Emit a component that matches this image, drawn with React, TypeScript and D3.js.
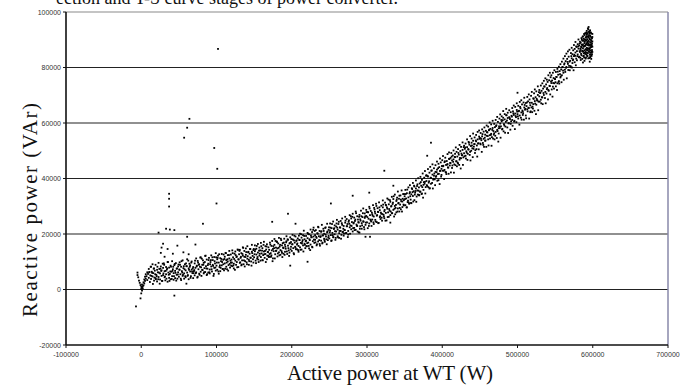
import * as d3 from "d3";

// all values in thousands (kW, kVAr)
const startupPoints: number[][] = [
  [-7,-6.1],[-5,6.1],[-5,5.2],[-4,4.4],[-3,3.2],[-2,2.4],[-1,1.6],[0,1],[0,-1.4],[-1,-3.2],[1,0.6],[1,1.8],[2,0.4],[2,1.2],[3,1.5],[3,2.6],[4,2.2],[4,3.6],[5,3.1],[5,4.6],[6,3.9],[6,5.5],[7,4.8],[8,6.2],[8,3.4],[9,5.6],[10,7.4],[10,4.2],[11,6.3],[12,5.1],[1,-0.4],[0,0.2],
];

const lowBand: number[][] = [
  [13,3.8],[13,8.2],[14,6.4],[15,4.7],[15,9.1],[16,5.9],[17,3.2],[17,7.6],[18,6.8],[19,4.1],[19,8.9],[20,5.3],[21,7.1],[21,2.9],[22,6.2],[23,4.5],[23,9.6],[24,7.4],[25,3.6],[25,5.8],[26,8.3],[27,4.9],[27,6.9],[28,3.1],[29,7.8],[29,5.2],
  [30,9.4],[31,4.4],[31,6.6],[32,3.3],[33,8.1],[33,5.5],[34,7.2],[35,2.8],[35,9.9],[36,6.1],[37,4.2],[37,7.9],[38,5.6],[39,3.7],[39,8.6],[40,6.4],[41,10.2],[41,4.8],[42,7.3],[43,3.5],[43,5.9],[44,8.8],[45,6.7],[45,4.1],[46,9.5],[47,5.3],[47,7.5],[48,3.9],[49,6.2],[49,8.3],
  [50,4.6],[51,7.1],[51,9.8],[52,5.5],[53,3.4],[53,8.2],[54,6.6],[55,10.5],[55,4.9],[56,7.7],[57,5.8],[57,3.9],[58,9.1],[59,6.9],[59,4.4],[60,8.4],[61,6.1],[61,10.9],[62,5.2],[63,7.6],[63,3.7],[64,9.3],[65,6.5],[65,8.7],[66,4.8],[67,7.2],[67,10.1],[68,5.9],[69,8.1],[69,4.1],
  [70,6.6],[71,9.4],[71,5.1],[72,7.8],[73,11.2],[73,6.2],[74,8.6],[75,4.6],[75,10.3],[76,7.3],[77,5.7],[77,9.1],[78,8.2],[79,6.4],[79,11.6],[80,4.9],[81,8.9],[81,7.1],[82,10.5],[83,5.8],[83,9.6],[84,7.7],[85,12.1],[85,6.3],[86,8.4],[87,5.2],[87,10.8],[88,7.5],[89,9.3],[89,6.1],
  [90,11.4],[91,7.2],[91,5.8],[92,9.9],[93,8.3],[93,12.3],[94,6.5],[95,10.6],[95,8.9],[96,4.9],[97,7.8],[97,11.7],[98,9.4],[99,6.8],[99,13.1],[100,8.6],[101,10.9],[101,7.1],[102,12.2],[103,5.7],[103,9.7],[104,8.1],[105,11.3],[105,6.6],[106,10.2],[107,12.8],[107,8.7],[108,7.4],[109,10.7],[109,9.1],
  [110,6.9],[111,11.8],[111,9.4],[112,13.2],[113,8.2],[113,10.6],[114,7.3],[115,12.4],[115,10.1],[116,8.8],[117,13.9],[117,11.2],[118,7.9],[119,9.7],[119,12.6],[120,10.8],[121,8.4],[121,14.1],[122,11.6],[123,9.3],[123,7.6],[124,12.9],[125,10.4],[125,13.7],[126,8.9],[127,11.9],[127,9.9],[128,14.4],[129,10.9],[129,8.1],
  [130,12.7],[131,9.6],[131,14.3],[132,11.4],[133,8.7],[133,13.1],[134,10.5],[135,15.2],[135,12.2],[136,9.1],[137,11.8],[137,13.9],[138,10.2],[139,14.8],[139,12.5],[140,9.8],[141,11.1],[141,15.6],[142,13.4],[143,10.7],[143,8.9],[144,12.9],[145,14.6],[145,11.5],[146,10.1],[147,13.6],[147,16.1],[148,12.1],[149,9.7],[149,14.2],
];

const midBand: number[][] = [
  [150,11.6],[151,13.8],[151,15.9],[152,10.4],[153,12.6],[153,14.7],[154,11.1],[155,16.4],[155,13.3],[156,9.9],[157,12.2],[157,15.1],[158,14.1],[159,11.7],[159,16.8],[160,13],[161,10.6],[161,14.9],[162,12.4],[163,17.2],[163,13.7],[164,11.4],[165,15.6],[165,12.8],[166,14.4],[167,10.9],[167,16.3],[168,13.5],[169,15.2],[169,12.1],
  [170,14.3],[171,11.8],[171,16.9],[172,13.1],[173,15.7],[173,12.3],[174,17.5],[175,14.6],[175,11.2],[176,13.8],[177,16.1],[177,18.2],[178,12.7],[179,15.1],[179,13.9],[180,17.3],[181,11.9],[181,14.8],[182,16.6],[183,13.4],[183,18.6],[184,15.5],[185,12.5],[185,14.2],[186,17.8],[187,15.9],[187,13.2],[188,16.7],[189,12.9],[189,14.9],
  [190,18.3],[191,13.6],[191,16.1],[192,14.7],[193,17.4],[193,19.2],[194,12.8],[195,15.8],[195,17.9],[196,14.1],[197,16.6],[197,13.3],[198,18.8],[199,15.4],[199,17.1],[200,13.9],[201,16.3],[201,19.7],[202,14.9],[203,17.7],[203,12.7],[204,16.9],[205,15.1],[205,19.1],[206,17.5],[207,14.5],[207,16.2],[208,18.4],[209,15.7],[209,13.6],
  [210,17.9],[211,15.2],[211,20.1],[212,16.8],[213,18.7],[213,14.4],[214,17.2],[215,19.6],[215,15.9],[216,21.2],[217,16.5],[217,18.1],[218,14.9],[219,19.3],[219,17.6],[220,15.6],[221,20.4],[221,18.5],[222,16.9],[223,14.8],[223,19.9],[224,17.8],[225,21.6],[225,16.2],[226,18.9],[227,15.4],[227,20.7],[228,17.4],[229,19.1],[229,22.3],
  [230,16.8],[231,19.6],[231,17.9],[232,21.4],[233,15.9],[233,18.6],[234,20.3],[235,17.3],[235,22.6],[236,19.2],[237,16.4],[237,21.1],[238,18.9],[239,20.8],[239,17.6],[240,23.3],[241,19.5],[241,16.9],[242,21.9],[243,18.3],[243,20.1],[244,17.2],[245,22.4],[245,19.8],[246,18.1],[247,23.7],[247,20.6],[248,17.8],[249,21.5],[249,19.3],
  [250,18.4],[251,21.2],[251,23.8],[252,19.6],[253,17.7],[253,22.1],[254,20.4],[255,24.5],[255,18.9],[256,21.8],[257,19.9],[257,23.1],[258,17.9],[259,22.7],[259,20.9],[260,25.1],[261,19.2],[261,21.6],[262,23.6],[263,20.3],[263,18.6],[264,22.4],[265,24.7],[265,21.1],[266,19.7],[267,23.3],[267,25.6],[268,20.8],[269,22.9],[269,19.4],
  [270,21.4],[271,24.1],[271,26.2],[272,20.3],[273,22.8],[273,25.4],[274,23.6],[275,21.1],[275,19.8],[276,24.9],[277,22.4],[277,26.8],[278,23.1],[279,21.7],[279,25.6],[280,24.3],[281,20.9],[281,27.3],[282,23.8],[283,22.2],[283,25.9],[284,24.7],[285,21.5],[285,28.1],[286,23.4],[287,26.4],[287,22.9],[288,25.2],[289,20.6],[289,24.1],
  [290,26.9],[291,22.8],[291,25.3],[292,28.4],[293,23.9],[293,21.9],[294,26.1],[295,24.6],[295,29.2],[296,22.5],[297,27.4],[297,25.8],[298,23.3],[299,28.7],[299,26.5],[300,24.2],[301,22.1],[301,27.9],[302,25.5],[303,29.8],[303,23.8],[304,26.8],[305,24.9],[305,28.3],[306,22.9],[307,27.1],[307,25.2],[308,30.4],[309,26.3],[309,23.6],
  [310,28.8],[311,25.1],[311,27.4],[312,30.9],[313,24.3],[313,26.6],[314,29.3],[315,27.9],[315,23.9],[316,31.4],[317,26.1],[317,28.6],[318,25.4],[319,30.2],[319,27.3],[320,24.8],[321,29.6],[321,32.1],[322,26.9],[323,28.2],[323,25.7],[324,31.3],[325,27.6],[325,30.5],[326,24.9],[327,29.1],[327,32.8],[328,27.8],[329,26.2],[329,30.7],
  [330,28.4],[331,31.6],[331,26.8],[332,29.9],[333,33.4],[333,27.5],[334,30.8],[335,28.7],[335,32.6],[336,26.3],[337,30.1],[337,34.2],[338,29.4],[339,31.9],[339,27.8],[340,33.1],[341,29.2],[341,35.3],[342,31.2],[343,28.1],[343,33.8],[344,30.6],[345,32.4],[345,28.9],[346,35.7],[347,31.7],[347,29.7],[348,34.4],[349,32.2],[349,30.3],
];

const highBand: number[][] = [
  [350,33.6],[351,30.4],[351,35.9],[352,32.8],[353,29.6],[353,34.7],[354,31.5],[355,36.8],[355,33.2],[356,30.9],[357,35.1],[357,37.6],[358,32.4],[359,34.3],[359,31.1],[360,36.2],[361,33.7],[361,38.4],[362,35.4],[363,32.2],[363,37.1],[364,34.9],[365,39.3],[365,36.4],[366,33.5],[367,37.9],[367,35.7],[368,40.1],[369,36.8],[369,34.1],
  [370,38.2],[371,35.3],[371,40.6],[372,37.4],[373,34.6],[373,39.5],[374,41.8],[375,37.7],[375,35.9],[376,40.3],[377,38.8],[377,42.7],[378,36.9],[379,41.2],[379,39.1],[380,37.3],[381,43.4],[381,40.7],[382,38.5],[383,42.1],[383,36.4],[384,44.2],[385,40.2],[385,38.1],[386,42.9],[387,41.4],[387,45.1],[388,39.6],[389,43.7],[389,41],
  [390,39.7],[391,42.4],[391,44.8],[392,40.9],[393,46.1],[393,43.2],[394,41.6],[395,45.3],[395,39.4],[396,44.1],[397,42.7],[397,47.2],[398,45.8],[399,43.5],[399,41.3],[400,46.6],[401,44.4],[401,48.1],[402,42.8],[403,45.9],[403,43.1],[404,47.5],[405,44.9],[405,42.2],[406,46.3],[407,48.8],[407,45.2],[408,43.9],[409,47.1],[409,49.4],
  [410,44.7],[411,47.4],[411,45.6],[412,49.2],[413,46.5],[413,43.8],[414,48.3],[415,50.1],[415,46.9],[416,45.1],[417,48.9],[417,47.7],[418,51.2],[419,46.2],[419,49.6],[420,47.9],[421,45.4],[421,50.6],[422,48.6],[423,52.1],[423,46.8],[424,49.9],[425,47.3],[425,51.4],[426,48.4],[427,53],[427,50.3],[428,47.6],[429,51.8],[429,49.1],
  [430,50.7],[431,48.2],[431,52.6],[432,49.8],[433,54.1],[433,51.3],[434,48.9],[435,53.2],[435,50.4],[436,52.2],[437,55.3],[437,49.6],[438,51.7],[439,54.4],[439,52.9],[440,50.9],[441,53.6],[441,56.2],[442,51.5],[443,54.8],[443,52.4],[444,50.2],[445,55.7],[445,53.4],[446,51.9],[447,56.8],[447,54.1],[448,52.7],[449,55.1],[449,57.3],
  [450,54.6],[451,52.3],[451,56.4],[452,53.8],[453,57.7],[453,55.2],[454,52.8],[455,56.9],[455,54.3],[456,58.4],[457,55.8],[457,53.6],[458,57.2],[459,59.1],[459,55.4],[460,56.6],[461,54.1],[461,58.7],[462,57.4],[463,55.6],[463,60.2],[464,57.9],[465,56.1],[465,59.5],[466,54.9],[467,58.2],[467,60.8],[468,57.1],[469,59.7],[469,56.3],
  [470,58.5],[471,56.8],[471,61.1],[472,59.2],[473,57.5],[473,62.2],[474,60.4],[475,58.1],[475,56.2],[476,61.6],[477,59.8],[477,63.1],[478,58.8],[479,62.4],[479,60.6],[480,57.9],[481,61.9],[481,64.3],[482,59.6],[483,63.2],[483,61.3],[484,58.7],[485,62.8],[485,65.1],[486,60.9],[487,63.7],[487,61.8],[488,59.9],[489,64.6],[489,62.1],
  [490,61.4],[491,63.9],[491,59.7],[492,62.6],[493,65.4],[493,61.1],[494,64.2],[495,62.9],[495,66.3],[496,60.8],[497,63.4],[497,65.8],[498,62.1],[499,64.7],[499,67.1],[500,63.2],[501,61.6],[501,66.2],[502,64.4],[503,62.7],[503,67.6],[504,65.3],[505,63.8],[505,68.2],[506,66.7],[507,64.1],[507,62.9],[508,67.4],[509,65.6],[509,69.1],
  [510,64.8],[511,67.2],[511,62.7],[512,66.1],[513,69.4],[513,64.9],[514,67.8],[515,65.4],[515,70.3],[516,68.5],[517,66.4],[517,63.9],[518,69.8],[519,67.3],[519,71.2],[520,65.9],[521,68.9],[521,66.8],[522,70.7],[523,67.9],[523,72.1],[524,69.3],[525,66.6],[525,71.4],[526,68.2],[527,73.2],[527,70.1],[528,67.7],[529,71.9],[529,69.6],
  [530,70.8],[531,68.4],[531,73.5],[532,71.6],[533,69.2],[533,74.3],[534,72.4],[535,70.1],[535,75.2],[536,73.1],[537,71.2],[537,76.1],[538,73.9],[539,72.2],[539,75.6],[540,74.8],[541,71.9],[541,77.2],[542,75.4],[543,73.3],[543,78.1],[544,76.5],[545,74.4],[545,77.2],[546,75.3],[547,73.1],[547,78.1],[548,76.2],[549,74.3],[549,79],
  [550,75.8],[551,73.2],[551,78.4],[552,76.6],[553,74.3],[553,79.5],[554,77.4],[555,75.1],[555,80.3],[556,78.7],[557,76.4],[557,81.2],[558,79.3],[559,77.2],[559,82.1],[560,80.2],[561,78.1],[561,83.2],[562,81.1],[563,79.2],[563,84.1],[564,82.3],[565,80.2],[565,85],[566,83.1],[567,81.3],[567,85.8],[568,83.9],[569,82.1],[569,86.4],
];

const bandFill: number[][] = [
  [10.5,6.2],[11.5,2.7],[12.5,8.2],[13.5,4.9],[14.5,6],[15.5,2],[16.5,7.5],[17.5,4.3],[18.5,5.5],[19.5,3.7],
  [20.5,4.8],[21.5,8.2],[22.5,3.7],[23.5,6.1],[24.5,2.1],[25.5,7.5],[26.5,6.7],[27.5,3.1],[28.5,9.3],[29.5,5.8],
  [30.5,8.9],[31.5,4.7],[32.5,6.7],[33.5,3.9],[34.5,7.6],[35.5,9.9],[36.5,5.3],[37.5,3.1],[38.5,6.5],[39.5,8.2],
  [40.5,3.8],[41.5,6.7],[42.5,8.2],[43.5,4.8],[44.5,9.2],[45.5,6],[46.5,3.2],[47.5,7.6],[48.5,5.4],[49.5,9],
  [50.5,7.2],[51.5,8.9],[52.5,3.9],[53.5,10.2],[54.5,6.1],[55.5,5.3],[56.5,8.4],[57.5,7.3],[58.5,4.8],[59.5,9.4],
  [60.5,8.4],[61.5,4.9],[62.5,10.4],[63.5,7.1],[64.5,8.2],[65.5,4.2],[66.5,9.7],[67.5,6.5],[68.5,7.6],[69.5,5.9],
  [70.5,7],[71.5,10.4],[72.5,5.9],[73.5,8.3],[74.5,4.3],[75.5,9.7],[76.5,8.9],[77.5,5.3],[78.5,11.5],[79.5,8],
  [80.5,11.1],[81.5,7],[82.5,8.9],[83.5,6.2],[84.5,9.9],[85.5,12.2],[86.5,7.6],[87.5,5.5],[88.5,8.8],[89.5,10.6],
  [90.5,6.2],[91.5,9.1],[92.5,10.6],[93.5,7.3],[94.5,11.6],[95.5,8.5],[96.5,5.6],[97.5,10.2],[98.5,7.9],[99.5,11.6],
  [100.5,9.7],[101.5,11.4],[102.5,6.5],[103.5,12.7],[104.5,8.7],[105.5,7.8],[106.5,11],[107.5,9.9],[108.5,7.4],[109.5,12.6],
  [110.5,11],[111.5,7.5],[112.5,13.1],[113.5,9.7],[114.5,10.9],[115.5,6.8],[116.5,12.4],[117.5,9.2],[118.5,10.4],[119.5,8.6],
  [120.5,9.7],[121.5,13.1],[122.5,8.7],[123.5,11],[124.5,7.1],[125.5,12.4],[126.5,11.7],[127.5,8],[128.5,14.3],[129.5,10.8],
  [130.5,13.9],[131.5,9.8],[132.5,11.8],[133.5,9],[134.5,12.8],[135.5,15],[136.5,10.5],[137.5,8.3],[138.5,11.7],[139.5,13.5],
  [140.5,9.1],[141.5,12],[142.5,13.6],[143.5,10.2],[144.5,14.6],[145.5,11.4],[146.5,8.6],[147.5,13.1],[148.5,10.9],[149.5,14.6],
  [150.5,12.7],[151.5,14.4],[152.5,9.5],[153.5,15.7],[154.5,11.7],[155.5,10.8],[156.5,14],[157.5,12.9],[158.5,10.4],[159.5,15.6],
  [160.5,14],[161.5,10.5],[162.5,16.1],[163.5,12.7],[164.5,13.9],[165.5,9.9],[166.5,15.5],[167.5,12.2],[168.5,13.5],[169.5,11.7],
  [170.5,12.8],[171.5,16.2],[172.5,11.8],[173.5,14.1],[174.5,10.2],[175.5,15.6],[176.5,14.9],[177.5,11.2],[178.5,17.5],[179.5,14],
  [180.5,17.1],[181.5,13],[182.5,15],[183.5,12.3],[184.5,16.1],[185.5,18.3],[186.5,13.8],[187.5,11.7],[188.5,15.1],[189.5,16.9],
  [190.5,12.5],[191.5,15.4],[192.5,17],[193.5,13.7],[194.5,18.1],[195.5,14.9],[196.5,12.1],[197.5,16.7],[198.5,14.5],[199.5,18.2],
  [200.5,16.3],[201.5,18],[202.5,13.1],[203.5,19.4],[204.5,15.4],[205.5,14.5],[206.5,17.7],[207.5,16.6],[208.5,14.2],[209.5,19.4],
  [210.5,17.8],[211.5,14.3],[212.5,19.9],[213.5,16.6],[214.5,17.8],[215.5,13.7],[216.5,19.3],[217.5,16.1],[218.5,17.4],[219.5,15.6],
  [220.5,16.7],[221.5,20.1],[222.5,15.7],[223.5,18.1],[224.5,14.2],[225.5,19.5],[226.5,18.8],[227.5,15.2],[228.5,21.5],[229.5,18],
  [230.5,21.1],[231.5,17],[232.5,19],[233.5,16.3],[234.5,20.1],[235.5,22.4],[236.5,17.8],[237.5,15.8],[238.5,19.2],[239.5,21],
  [240.5,16.6],[241.5,19.5],[242.5,21.1],[243.5,17.8],[244.5,22.2],[245.5,19.1],[246.5,16.3],[247.5,20.9],[248.5,18.7],[249.5,22.4],
  [250.5,20.6],[251.5,22.3],[252.5,17.5],[253.5,23.6],[254.5,19.6],[255.5,18.8],[256.5,22.1],[257.5,21],[258.5,18.6],[259.5,23.8],
  [260.5,22.3],[261.5,18.8],[262.5,24.4],[263.5,21.1],[264.5,22.3],[265.5,18.3],[266.5,23.9],[267.5,20.7],[268.5,21.9],[269.5,20.2],
  [270.5,21.4],[271.5,24.8],[272.5,20.4],[273.5,22.8],[274.5,18.9],[275.5,24.4],[276.5,23.7],[277.5,20.1],[278.5,26.4],[279.5,22.9],
  [280.5,26.2],[281.5,22.1],[282.5,24.1],[283.5,21.4],[284.5,25.2],[285.5,27.5],[286.5,23],[287.5,20.9],[288.5,24.3],[289.5,26.2],
  [290.5,21.9],[291.5,24.8],[292.5,26.4],[293.5,23.1],[294.5,27.5],[295.5,24.4],[296.5,21.7],[297.5,26.3],[298.5,24.1],[299.5,27.9],
  [300.5,26.1],[301.5,27.8],[302.5,22.9],[303.5,29.2],[304.5,25.2],[305.5,24.5],[306.5,27.7],[307.5,26.6],[308.5,24.2],[309.5,29.4],
  [310.5,28],[311.5,24.5],[312.5,30.1],[313.5,26.8],[314.5,28],[315.5,24],[316.5,29.6],[317.5,26.4],[318.5,27.7],[319.5,25.9],
  [320.5,27.2],[321.5,30.6],[322.5,26.3],[323.5,28.7],[324.5,24.8],[325.5,30.3],[326.5,29.6],[327.5,26.1],[328.5,32.4],[329.5,29],
  [330.5,32.2],[331.5,28.1],[332.5,30.1],[333.5,27.5],[334.5,31.3],[335.5,33.6],[336.5,29.1],[337.5,27.1],[338.5,30.5],[339.5,32.4],
  [340.5,28.1],[341.5,31],[342.5,32.7],[343.5,29.4],[344.5,33.9],[345.5,31.8],[346.5,28.1],[347.5,32.7],[348.5,30.6],[349.5,34.4],
  [350.5,32.6],[351.5,34.4],[352.5,29.6],[353.5,36],[354.5,32],[355.5,31.3],[356.5,34.6],[357.5,33.6],[358.5,31.2],[359.5,36.5],
  [360.5,35.1],[361.5,31.7],[362.5,37.4],[363.5,34.2],[364.5,35.5],[365.5,31.6],[366.5,37.3],[367.5,34.2],[368.5,35.6],[369.5,33.9],
  [370.5,35.2],[371.5,38.7],[372.5,34.4],[373.5,36.9],[374.5,33.1],[375.5,38.7],[376.5,38.1],[377.5,34.6],[378.5,41],[379.5,37.6],
  [380.5,40.9],[381.5,36.9],[382.5,39],[383.5,36.5],[384.5,40.3],[385.5,42.8],[386.5,38.4],[387.5,36.4],[388.5,39.9],[389.5,41.8],
  [390.5,37.6],[391.5,40.6],[392.5,42.3],[393.5,39.2],[394.5,43.7],[395.5,41.7],[396.5,38],[397.5,42.8],[398.5,40.7],[399.5,44.5],
  [400.5,42.8],[401.5,44.6],[402.5,39.8],[403.5,46.2],[404.5,42.3],[405.5,41.6],[406.5,45],[407.5,44],[408.5,41.7],[409.5,47],
  [410.5,45.6],[411.5,42.2],[412.5,47.9],[413.5,44.7],[414.5,46],[415.5,42.1],[416.5,47.8],[417.5,44.8],[418.5,46.2],[419.5,44.4],
  [420.5,45.7],[421.5,49.2],[422.5,44.9],[423.5,47.4],[424.5,43.6],[425.5,49],[426.5,48.4],[427.5,44.9],[428.5,51.3],[429.5,48],
  [430.5,51.2],[431.5,47.2],[432.5,49.3],[433.5,46.7],[434.5,50.6],[435.5,52.9],[436.5,48.5],[437.5,46.5],[438.5,50],[439.5,51.9],
  [440.5,47.7],[441.5,50.7],[442.5,52.4],[443.5,49.2],[444.5,53.7],[445.5,50.6],[446.5,47.9],[447.5,52.6],[448.5,50.5],[449.5,54.3],
  [450.5,52.6],[451.5,54.4],[452.5,49.6],[453.5,56],[454.5,52.1],[455.5,51.4],[456.5,54.7],[457.5,53.7],[458.5,51.4],[459.5,56.7],
  [460.5,55.3],[461.5,51.9],[462.5,57.6],[463.5,54.4],[464.5,55.7],[465.5,51.8],[466.5,57.5],[467.5,54.4],[468.5,55.8],[469.5,54.1],
  [470.5,55.4],[471.5,58.9],[472.5,54.6],[473.5,57.1],[474.5,53.3],[475.5,58.8],[476.5,58.2],[477.5,54.7],[478.5,61.1],[479.5,57.7],
  [480.5,61],[481.5,57],[482.5,59.1],[483.5,56.5],[484.5,60.4],[485.5,62.8],[486.5,58.4],[487.5,56.4],[488.5,59.9],[489.5,61.8],
  [490.5,57.6],[491.5,60.6],[492.5,62.3],[493.5,59],[494.5,63.5],[495.5,60.5],[496.5,57.8],[497.5,62.5],[498.5,60.3],[499.5,64.1],
  [500.5,62.4],[501.5,64.2],[502.5,59.4],[503.5,65.8],[504.5,61.9],[505.5,61.2],[506.5,64.5],[507.5,63.5],[508.5,61.2],[509.5,66.5],
  [510.5,65.1],[511.5,61.7],[512.5,67.4],[513.5,64.2],[514.5,65.5],[515.5,61.6],[516.5,67.3],[517.5,64.2],[518.5,65.6],[519.5,63.9],
  [520.5,65.2],[521.5,68.7],[522.5,64.4],[523.5,67],[524.5,63.2],[525.5,68.7],[526.5,68.1],[527.5,64.6],[528.5,71.1],[529.5,67.7],
  [530.5,71],[531.5,67.1],[532.5,69.3],[533.5,66.8],[534.5,70.8],[535.5,73.2],[536.5,69],[537.5,67.1],[538.5,70.6],[539.5,72.6],
  [540.5,68.5],[541.5,71.6],[542.5,73.4],[543.5,70.3],[544.5,75],[545.5,72.1],[546.5,69.5],[547.5,74.4],[548.5,72.4],[549.5,75.9],
  [550.5,74.7],[551.5,76.6],[552.5,71.9],[553.5,78.5],[554.5,74.8],[555.5,74.2],[556.5,77.6],[557.5,76.8],[558.5,74.7],[559.5,80.1],
  [560.5,78.9],[561.5,75.6],[562.5,81.5],[563.5,78.4],[564.5,79.9],[565.5,76.1],[566.5,82],[567.5,79.1],[568.5,80.6],[569.5,79],
  [570.5,80.5],[571.5,84.1],[572.5,80],[573.5,82.6],[574.5,79],[575.5,84.6],[576.5,84.2],[577.5,80.8],[578.5,87.4],[579.5,84.1],
  [580.5,87.6],[581.5,83.7],[582.5,85.9],[583.5,83.5],[584.5,87.5],[585.5,90.1],[586.5,86],[587.5,84.1],[588.5,87.7],[589.5,90.1],
  [590.5,85.6],[591.5,88.5],[592.5,90.2],[593.5,86.9],[594.5,91.1],[595.5,88.1],[596.5,85.3],[597.5,90],[598.5,87.8],[599.5,91],
];

const topCluster: number[][] = [
  [570,82.4],[571,80.1],[571,85.2],[572,83.3],[572,87.1],[573,81.6],[573,84.8],[574,86.2],[574,82.9],[575,88.1],[575,84.1],[576,81.9],[576,86.7],[577,85.4],[577,89.2],[578,83.2],[578,87.6],[579,85.9],[579,82.6],[580,88.4],[580,84.7],[581,86.8],[581,90.1],[582,83.9],[582,87.9],[583,85.6],[583,89.3],[584,82.7],[584,86.3],[584,88.9],
  [585,84.4],[585,87.2],[585,90.6],[586,83.1],[586,85.8],[586,89.7],[587,81.8],[587,86.9],[587,88.3],[587,91.2],[588,84.2],[588,87.5],[588,90.3],[588,85.1],[589,82.4],[589,88.8],[589,86.2],[589,91.7],[590,84.9],[590,87.8],[590,89.9],[590,92.4],[591,83.6],[591,86.4],[591,90.8],[591,88.2],[592,85.3],[592,91.3],[592,87.1],[592,93.2],
  [593,84.1],[593,89.4],[593,86.7],[593,92.1],[594,83.3],[594,88.5],[594,90.9],[594,93.8],[595,85.7],[595,87.9],[595,91.6],[595,89.2],[596,84.6],[596,86.8],[596,90.2],[596,92.7],[597,83.9],[597,88.1],[597,91.1],[597,86.1],[598,85.4],[598,89.6],[598,92.3],[598,87.4],[599,84.8],[599,90.5],[599,88.7],[599,86.3],[596,82.1],[598,83.1],
  [586.5,87.9],[587.5,89.6],[588.5,83.6],[589.5,85.3],[590.5,90.9],[591.5,84.7],[592.5,88.9],[593.5,91.2],[594.5,85.9],[595.5,93.1],[596.5,88.4],[597.5,84.6],[598.5,90.8],[599.5,85.6],[594.5,86.8],[596.5,91.5],[597.5,92.6],[598.5,88.2],[599.5,92.1],[595.5,83.4],
  [582.5,88.6],[583.5,86.8],[584.5,84.9],[585.5,88.2],[586.5,91.1],[587.5,85.7],[588.5,92.1],[589.5,87.9],[590.5,83.2],[591.5,92.6],[592.5,86.2],[593.5,88.1],[594.5,92.8],[595.5,86.4],[596.5,83.7],[597.5,87.3],[598.5,85.8],[599.5,89.4],[593.5,94.1],[594.5,94.6],
  [589.5,89.3],[590.5,86.6],[591.5,89.7],[592.5,84.3],[593.5,85.2],[594.5,89.7],[595.5,90.5],[596.5,87.2],[597.5,89.1],[598.5,84.2],[599.5,87.5],[591.5,91.9],[592.5,92.4],[595.5,92.2],[596.5,93.4],
];

const outliers: number[][] = [
  [102,86.7],[64,61.5],[61,58.3],[57,54.7],[97,51],[101,43.5],[323,42.8],[37,34.5],[37,32.7],[37,29.9],[100,31],[82,23.7],[33,21.9],[38,21.6],[44,21.4],[23,20.5],[29,16.5],[61,19],[44,-2.2],
  [195,27.3],[174,24.4],[252,31],[281,33.8],[303,34.9],[335,37.4],[221,10],[198,8.6],[60,2.1],[205,23.7],[290,20.5],[298,19],[304,19],[385,52.9],[380,48.2],[500,70.9],[331,24.1],
  [26,13.2],[31,11.8],[35,14.6],[42,12.9],[48,15.8],[56,13.4],[63,12.7],[72,16.2],[27,15.1],
];

const xTicks = [-100000, 0, 100000, 200000, 300000, 400000, 500000, 600000, 700000];
const yTicks = [-20000, 0, 20000, 40000, 60000, 80000, 100000];
const gridValues = [0, 20000, 40000, 60000, 80000];

const W = 687;
const H = 385;
const left = 66, right = 668, top = 12, bottom = 345;

export default function App() {
  const x = d3.scaleLinear().domain([-100000, 700000]).range([left, right]);
  const y = d3.scaleLinear().domain([-20000, 100000]).range([bottom, top]);
  const points = [...startupPoints, ...lowBand, ...midBand, ...highBand, ...bandFill, ...topCluster, ...outliers];
  const serif = "'Liberation Serif', 'Times New Roman', serif";
  const sans = "'Liberation Sans', Arial, sans-serif";

  return (
    <svg width={W} height={H} style={{ position: "absolute", left: 0, top: 0, background: "#fff" }}>
      <rect x={0} y={0} width={W} height={H} fill="#fff" />
      <text x={398} y={4} fontFamily={serif} fontSize={18} textAnchor="end" fill="#111">
        ection and T-S curve stages of power converter.
      </text>
      {gridValues.map((v) => (
        <line key={v} x1={left} x2={right} y1={y(v)} y2={y(v)} stroke="#222" strokeWidth={1.1} />
      ))}
      <line x1={left} x2={right} y1={top} y2={top} stroke="#8a8a8a" strokeWidth={1.2} />
      <line x1={right} x2={right} y1={top} y2={bottom} stroke="#8888aa" strokeWidth={1.5} />
      <g>
        {points.map((d, i) => (
          <rect key={i} x={x(d[0] * 1000) - 0.9} y={y(d[1] * 1000) - 0.9} width={1.8} height={1.8} fill="#000" />
        ))}
      </g>
      <line x1={left} x2={left} y1={top} y2={bottom} stroke="#111" strokeWidth={1.6} />
      <line x1={left} x2={right} y1={bottom} y2={bottom} stroke="#111" strokeWidth={1.6} />
      {yTicks.map((v) => (
        <g key={v}>
          <line x1={left - 3} x2={left} y1={y(v)} y2={y(v)} stroke="#111" />
          <text x={left - 5} y={y(v) + 2.5} fontFamily={sans} fontSize={7} textAnchor="end" fill="#333">
            {v}
          </text>
        </g>
      ))}
      {xTicks.map((v) => (
        <g key={v}>
          <line x1={x(v)} x2={x(v)} y1={bottom} y2={bottom + 3} stroke="#111" />
          <text x={x(v)} y={357} fontFamily={sans} fontSize={7} textAnchor="middle" fill="#333">
            {v}
          </text>
        </g>
      ))}
      <text x={390} y={380} fontFamily={serif} fontSize={21} textAnchor="middle" textLength={206} lengthAdjust="spacing" fill="#111">
        Active power at WT (W)
      </text>
      <text transform="translate(37,210) rotate(-90)" fontFamily={serif} fontSize={21} textAnchor="middle" textLength={214} lengthAdjust="spacing" fill="#111">
        Reactive power (VAr)
      </text>
    </svg>
  );
}
